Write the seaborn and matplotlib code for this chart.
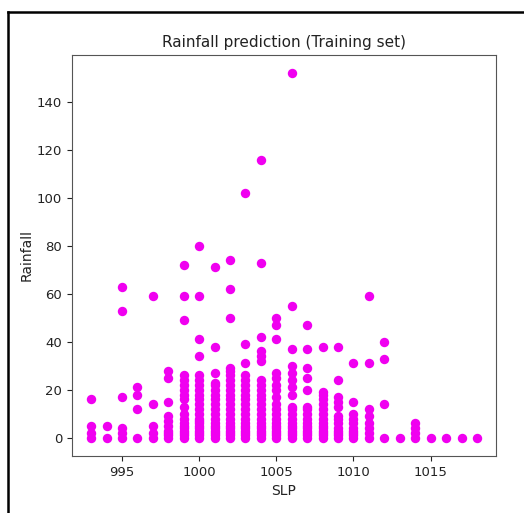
import matplotlib
matplotlib.use("Agg")
import matplotlib.pyplot as plt
from matplotlib.lines import Line2D
import seaborn as sns
import pandas as pd

slp_levels = [993, 994, 995, 996, 997, 998, 999, 1000, 1001, 1002, 1003, 1004, 1005,
              1006, 1007, 1008, 1009, 1010, 1011, 1012, 1013, 1014, 1015, 1016, 1017, 1018]

rainfall_by_slp = [
    [0, 2, 5, 16],                                                       # 993
    [0, 5],                                                              # 994
    [0, 2, 4, 17, 53, 63],                                               # 995
    [0, 12, 18, 21],                                                     # 996
    [0, 2, 5, 14, 59],                                                   # 997
    [0, 1, 2, 3, 5, 7, 9, 15, 25, 28],                                   # 998
    [0, 1, 2, 3, 4, 5, 6, 8, 10, 13, 16, 18, 20, 22, 24, 26, 49, 59, 72],  # 999
    [0, 1, 2, 3, 4, 5, 6, 7, 8, 10, 12, 14, 16, 18, 20, 22, 24, 26, 34, 41, 59, 80],  # 1000
    [0, 1, 2, 3, 4, 5, 6, 8, 10, 12, 14, 16, 18, 20, 22, 23, 27, 38, 71],  # 1001
    [0, 1, 2, 3, 4, 5, 6, 8, 10, 12, 14, 16, 18, 20, 22, 24, 26, 28, 29, 50, 62, 74],  # 1002
    [0, 1, 2, 3, 4, 5, 6, 8, 10, 12, 14, 16, 18, 20, 22, 24, 26, 31, 39, 102],  # 1003
    [0, 1, 2, 3, 4, 5, 6, 8, 10, 12, 14, 16, 18, 20, 22, 24, 32, 34, 36, 42, 73, 116],  # 1004
    [0, 1, 2, 3, 4, 5, 6, 8, 10, 12, 14, 17, 20, 22, 25, 27, 41, 47, 50],  # 1005
    [0, 1, 2, 3, 4, 5, 6, 8, 10, 12, 13, 18, 21, 24, 27, 30, 37, 55, 152],  # 1006
    [0, 1, 2, 3, 4, 5, 6, 8, 10, 12, 13, 20, 25, 29, 37, 47],              # 1007
    [0, 1, 2, 3, 4, 5, 6, 8, 10, 12, 14, 16, 18, 19, 38],                  # 1008
    [0, 1, 2, 3, 4, 6, 8, 9, 13, 15, 17, 24, 38],                          # 1009
    [0, 1, 2, 3, 4, 6, 8, 10, 15, 31],                                     # 1010
    [0, 2, 4, 6, 9, 12, 31, 59],                                           # 1011
    [0, 14, 33, 40],                                                       # 1012
    [0],                                                                   # 1013
    [0, 2, 4, 6],                                                          # 1014
    [0],                                                                   # 1015
    [0],                                                                   # 1016
    [0],                                                                   # 1017
    [0],                                                                   # 1018
]

title_text = "Rainfall prediction (Training set)"
x_label = "SLP"
y_label = "Rainfall"

rows = [(s, r) for s, vals in zip(slp_levels, rainfall_by_slp) for r in vals]
df = pd.DataFrame(rows, columns=["SLP", "Rainfall"])

fig = plt.figure(figsize=(5.24, 5.13), dpi=100)
ax = fig.add_axes([0.137, 0.111, 0.810, 0.782])
sns.scatterplot(data=df, x="SLP", y="Rainfall", color="#f000f0", s=46,
                linewidth=0, ax=ax)
ax.set_xticks([995, 1000, 1005, 1010, 1015])
ax.set_yticks([0, 20, 40, 60, 80, 100, 120, 140])
ax.set_title(title_text, fontsize=11, color="#222222")
ax.set_xlabel(x_label, fontsize=10, color="#222222")
ax.set_ylabel(y_label, fontsize=10, color="#222222", labelpad=2)
ax.tick_params(labelsize=9.5, colors="#222222")
for sp in ax.spines.values():
    sp.set_color("#555555")

# outer frame (top and left edges visible in the reference)
fig.add_artist(Line2D([8 / 524, 8 / 524], [0, 1 - 12 / 513], transform=fig.transFigure,
                      color="black", linewidth=1.8))
fig.add_artist(Line2D([8 / 524, 1], [1 - 12 / 513, 1 - 12 / 513], transform=fig.transFigure,
                      color="black", linewidth=1.8))

fig.savefig("out.png", dpi=100)
